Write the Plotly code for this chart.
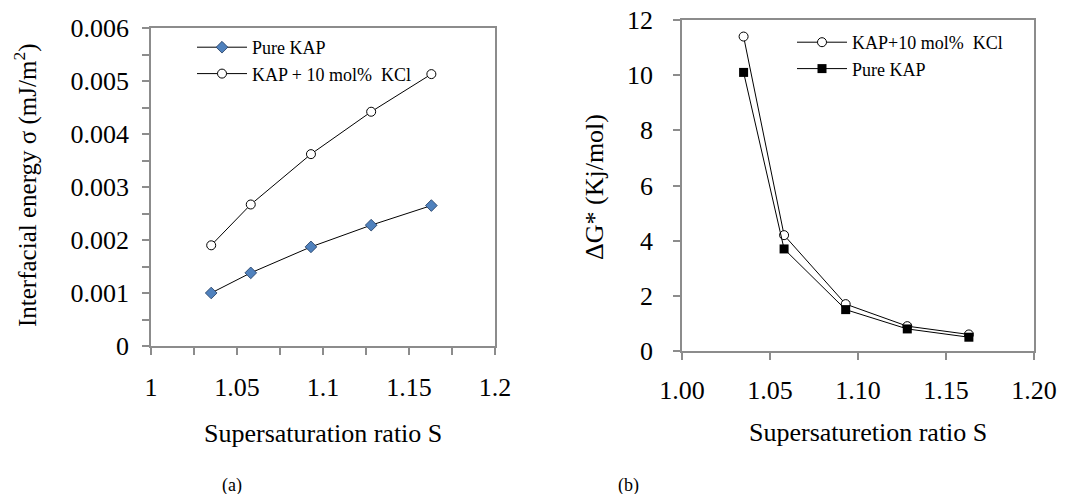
import plotly.graph_objects as go

# Data
S = [1.035, 1.058, 1.093, 1.128, 1.163]
sigma_pure = [0.0010, 0.00138, 0.00187, 0.00228, 0.00265]
sigma_kcl = [0.0019, 0.00267, 0.00362, 0.00442, 0.00513]
dG_kcl = [11.4, 4.2, 1.7, 0.9, 0.6]
dG_pure = [10.1, 3.7, 1.5, 0.8, 0.5]

left_xticks = [1, 1.05, 1.1, 1.15, 1.2]
left_xtext = ["1", "1.05", "1.1", "1.15", "1.2"]
left_yticks = [0, 0.001, 0.002, 0.003, 0.004, 0.005, 0.006]
left_ytext = ["0", "0.001", "0.002", "0.003", "0.004", "0.005", "0.006"]
right_xticks = [1.00, 1.05, 1.10, 1.15, 1.20]
right_xtext = ["1.00", "1.05", "1.10", "1.15", "1.20"]
right_yticks = [0, 2, 4, 6, 8, 10, 12]

W, H = 1081, 494
FONT = "Liberation Serif, Times New Roman, serif"
GRAY = "#8c8c8c"

def px(x):
    return x / W

def py(y):
    return 1 - y / H

fig = go.Figure()

fig.add_trace(go.Scatter(
    x=S, y=sigma_pure, mode="lines+markers", name="Pure KAP",
    line=dict(color="black", width=1),
    marker=dict(symbol="diamond", size=9, color="#4F81BD", line=dict(color="#1f3a5f", width=0.8)),
    xaxis="x", yaxis="y", legend="legend"))
fig.add_trace(go.Scatter(
    x=S, y=sigma_kcl, mode="lines+markers", name="KAP + 10 mol%  KCl",
    line=dict(color="black", width=1),
    marker=dict(symbol="circle", size=9, color="white", line=dict(color="black", width=1)),
    xaxis="x", yaxis="y", legend="legend"))

fig.add_trace(go.Scatter(
    x=S, y=dG_kcl, mode="lines+markers", name="KAP+10 mol%  KCl",
    line=dict(color="black", width=1),
    marker=dict(symbol="circle", size=9, color="white", line=dict(color="black", width=1)),
    xaxis="x2", yaxis="y2", legend="legend2"))
fig.add_trace(go.Scatter(
    x=S, y=dG_pure, mode="lines+markers", name="Pure KAP",
    line=dict(color="black", width=1),
    marker=dict(symbol="square", size=9, color="black"),
    xaxis="x2", yaxis="y2", legend="legend2"))

def axis_common():
    return dict(showline=True, linecolor=GRAY, linewidth=1.5, mirror=True,
                ticks="outside", tickcolor=GRAY, ticklen=7, tickwidth=1.5,
                showgrid=False, zeroline=False, automargin=False,
                tickfont=dict(family=FONT, size=26, color="black"))

fig.update_layout(
    template="none",
    width=W, height=H, margin=dict(l=0, r=0, t=0, b=0, autoexpand=False),
    paper_bgcolor="white", plot_bgcolor="white",
    font=dict(family=FONT, color="black"),
    xaxis=dict(domain=[px(151), px(495)], range=[1, 1.2], anchor="y",
               tickvals=left_xticks, ticktext=left_xtext, ticklabelstandoff=10,
               minor=dict(ticks="outside", dtick=0.025, ticklen=7, tickcolor=GRAY, tickwidth=1.5),
               **axis_common()),
    yaxis=dict(domain=[py(346), py(28)], range=[0, 0.006], anchor="x",
               tickvals=left_yticks, ticktext=left_ytext, ticklabelstandoff=8,
               minor=dict(ticks="outside", dtick=0.0005, ticklen=7, tickcolor=GRAY, tickwidth=1.5),
               **axis_common()),
    xaxis2=dict(domain=[px(682), px(1034)], range=[1, 1.2], anchor="y2",
                tickvals=right_xticks, ticktext=right_xtext, ticklabelstandoff=8,
                **axis_common()),
    yaxis2=dict(domain=[py(351), py(20)], range=[0, 12], anchor="x2",
                tickvals=right_yticks, ticklabelstandoff=15,
                **axis_common()),
    legend=dict(x=px(192), y=py(29), xanchor="left", yanchor="top",
                bgcolor="rgba(0,0,0,0)", itemwidth=50, tracegroupgap=0,
                font=dict(family=FONT, size=18, color="black")),
    legend2=dict(x=px(792), y=py(24), xanchor="left", yanchor="top",
                 bgcolor="rgba(0,0,0,0)", itemwidth=50, tracegroupgap=0,
                 font=dict(family=FONT, size=18, color="black")),
    showlegend=True,
)

anns = [
    dict(x=px(323), y=py(433), text="Supersaturation ratio S", font=dict(size=26)),
    dict(x=px(868), y=py(432), text="Supersaturetion ratio S", font=dict(size=26)),
    dict(x=px(25), y=py(186), text="Interfacial energy σ (mJ/m<sup>2</sup>)", textangle=-90, font=dict(size=25)),
    dict(x=px(595), y=py(187), text="ΔG* (Kj/mol)", textangle=-90, font=dict(size=26)),
    dict(x=px(232), y=py(485), text="(a)", font=dict(size=18)),
    dict(x=px(628), y=py(485), text="(b)", font=dict(size=18)),
]
for a in anns:
    a.update(xref="paper", yref="paper", showarrow=False, xanchor="center", yanchor="middle")
    a["font"].update(family=FONT, color="black")
    fig.add_annotation(**a)

fig.write_html("out.html")
